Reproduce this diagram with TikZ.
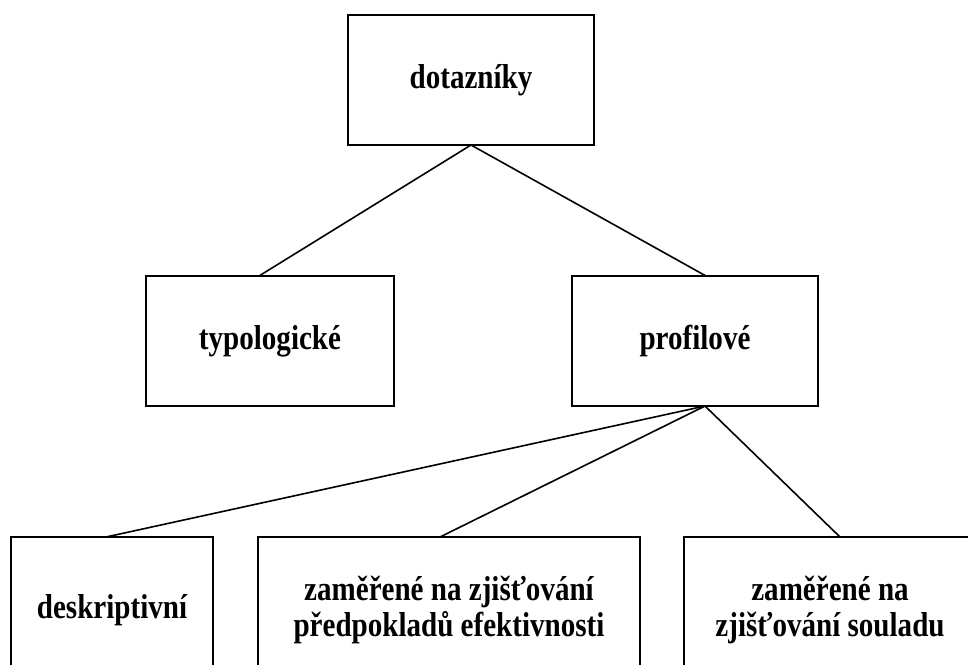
\documentclass[tikz,border=0pt]{standalone}
\usepackage{fontspec}
\setmainfont{Liberation Serif}[FakeStretch=0.84]
\begin{document}
\begin{tikzpicture}[x=1pt,y=-1pt,
  box/.style={draw=black,line width=2.2pt,inner sep=0pt,outer sep=0pt,align=center,
    font=\bfseries\fontsize{34.6}{36}\selectfont},
  link/.style={draw=black,line width=1.6pt}]
\useasboundingbox (0,0) rectangle (968,664);
\begin{scope}
\clip (0,0) rectangle (968,664);
\node[box,minimum width=246pt,minimum height=130pt] (dot) at (471,80) {dotazníky};
\node[box,minimum width=248pt,minimum height=130pt] (typ) at (270,341) {typologické};
\node[box,minimum width=246pt,minimum height=130pt] (pro) at (695,341) {profilové};
\node[box,minimum width=202pt,minimum height=146pt] (des) at (112,610) {deskriptivní};
\node[box,minimum width=382pt,minimum height=146pt] (mid) at (449,610) {zaměřené na zjišťování\\předpokladů efektivnosti};
\node[box,minimum width=292pt,minimum height=146pt] (rig) at (830,610) {zaměřené na\\zjišťování souladu};
\draw[link] (dot.south) -- ([xshift=-11pt]typ.north);
\draw[link] (dot.south) -- ([xshift=11pt]pro.north);
\draw[link] ([xshift=10pt]pro.south) -- ([xshift=-6pt]des.north);
\draw[link] ([xshift=10pt]pro.south) -- ([xshift=-9pt]mid.north);
\draw[link] ([xshift=10pt]pro.south) -- ([xshift=10pt]rig.north);
\end{scope}
\end{tikzpicture}
\end{document}
